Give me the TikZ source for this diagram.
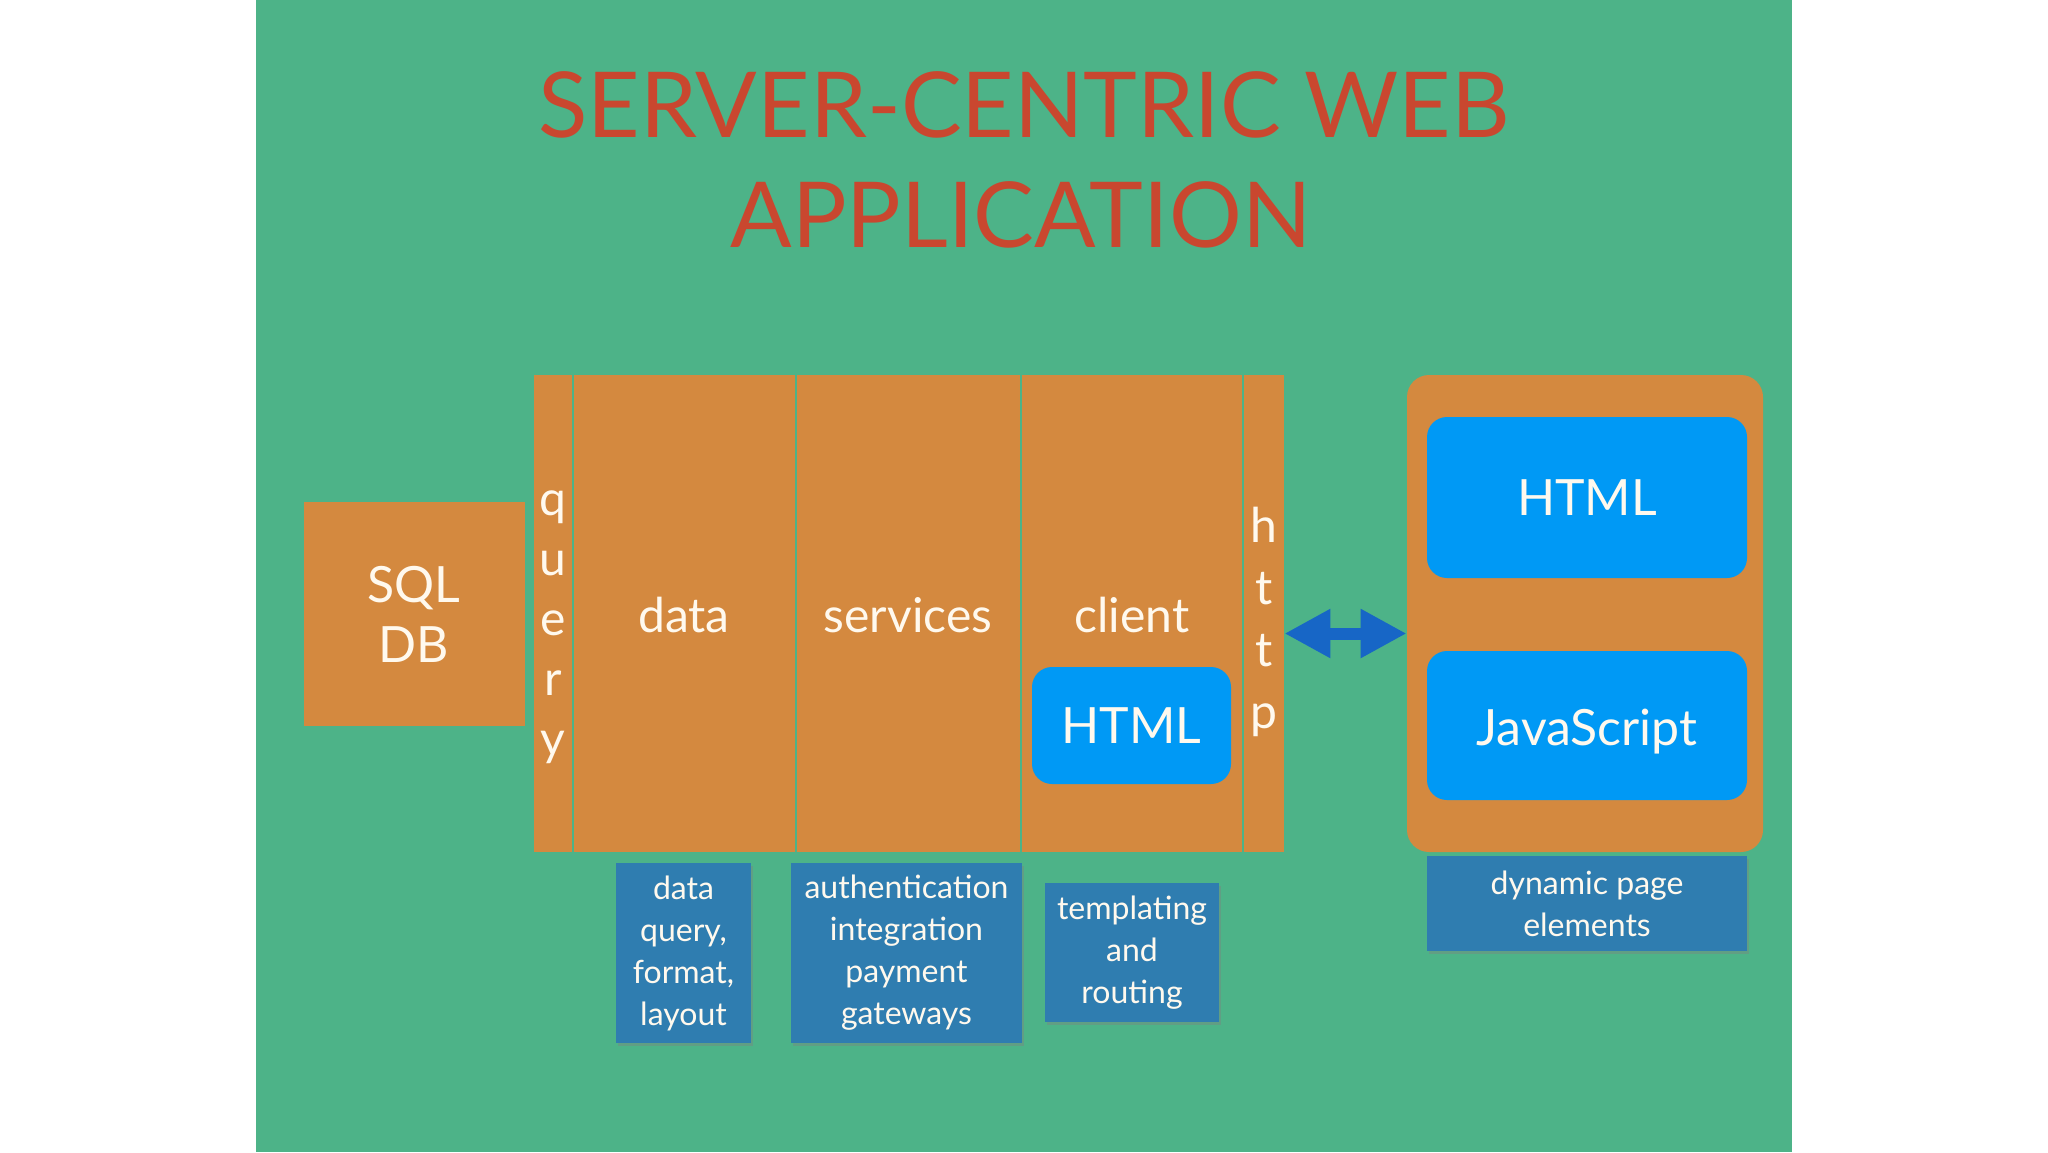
\documentclass[tikz,border=0pt]{standalone}
\usepackage{fontspec}
\setmainfont{Lato}
\usetikzlibrary{arrows.meta,fit,shadows}
\definecolor{bg}{HTML}{4DB388}
\definecolor{org}{HTML}{D4893F}
\definecolor{ttl}{HTML}{C9472F}
\definecolor{blu}{HTML}{0099F5}
\definecolor{lbl}{HTML}{2F7DB0}
\definecolor{arr}{HTML}{1766C6}
\definecolor{txt}{HTML}{FFF9EE}
\begin{document}
\begin{tikzpicture}[x=0.5pt,y=-0.5pt,
  orangebox/.style={fill=org, draw=none, inner sep=0pt},
  bluebox/.style={fill=blu, draw=none, rounded corners=10pt, inner sep=0pt},
  labelbox/.style={fill=lbl, draw=none, inner sep=0pt,
    drop shadow={shadow xshift=1.2pt, shadow yshift=-1.5pt, opacity=0.4}},
  bigtext/.style={text=txt, font=\fontsize{24}{28}\selectfont},
  labeltext/.style={text=txt, font=\fontsize{16}{21}\selectfont, align=center},
  titletext/.style={anchor=base, text=ttl, font=\fontsize{45.5}{50}\selectfont, inner sep=0pt},
]
\useasboundingbox (0,0) rectangle (2048,1152);
\fill[white] (0,0) rectangle (2048,1152);
\fill[bg] (256,0) rectangle (1792,1152);

% title
\node[titletext] (t1) at (1024,137) {SERVER-CENTRIC WEB};
\node[titletext] (t2) at (1021,247) {APPLICATION};

% SQL DB
\node[orangebox, fit={(304,502) (525,726)}] (sql) {};
\node[bigtext, align=center, font=\fontsize{25}{30}\selectfont] (sqlt) at (414,614) {SQL\\DB};

% server columns
\node[orangebox, fit={(534,375) (572,852)}] (query) {};
\node[orangebox, fit={(574,375) (795,852)}] (data) {};
\node[orangebox, fit={(797,375) (1020,852)}] (services) {};
\node[orangebox, fit={(1022,375) (1242,852)}] (client) {};
\node[orangebox, fit={(1244,375) (1284,852)}] (http) {};

\node[bigtext, align=center, font=\fontsize{24}{30}\selectfont] (queryt) at (553,627) {q\\u\\e\\r\\y};
\node[bigtext, align=center, font=\fontsize{24}{31}\selectfont] (httpt) at (1264,622) {h\\t\\t\\p};
\node[bigtext, anchor=base] (datat) at (684,632) {data};
\node[bigtext, anchor=base] (servicest) at (908,632) {services};
\node[bigtext, anchor=base] (clientt) at (1132,632) {client};

\node[bluebox, fit={(1032,667) (1231,784)}] (chtml) {};
\node[bigtext, font=\fontsize{25}{30}\selectfont] (chtmlt) at (chtml.center) {HTML};

% browser side
\node[orangebox, rounded corners=11pt, fit={(1407,375) (1763,852)}] (browser) {};
\node[bluebox, fit={(1427,417) (1747,578)}] (bhtml) {};
\node[bigtext, font=\fontsize{25}{30}\selectfont] (bhtmlt) at (bhtml.center) {HTML};
\node[bluebox, fit={(1427,651) (1747,800)}] (bjs) {};
\node[bigtext, font=\fontsize{25}{30}\selectfont] (bjst) at ([yshift=-3pt]bjs.center) {JavaScript};

% arrow
\draw[arr, line width=6pt, {Triangle[length=23pt,width=23pt]}-{Triangle[length=23pt,width=23pt]}]
  ([yshift=-10pt]http.east) -- ([yshift=-10pt]browser.west);

% labels
\node[labelbox, fit={(616,863) (751,1043)}] (ldata) {};
\node[labeltext] at (ldata.center) {data\\query,\\format,\\layout};
\node[labelbox, fit={(791,863) (1022,1043)}] (lserv) {};
\node[labeltext] at (lserv.center) {authentication\\integration\\payment\\gateways};
\node[labelbox, fit={(1045,883) (1219,1022)}] (ltmpl) {};
\node[labeltext] at (ltmpl.center) {templating\\and\\routing};
\node[labelbox, fit={(1427,856) (1747,951)}] (ldyn) {};
\node[labeltext] at (ldyn.center) {dynamic page\\elements};
\end{tikzpicture}
\end{document}
